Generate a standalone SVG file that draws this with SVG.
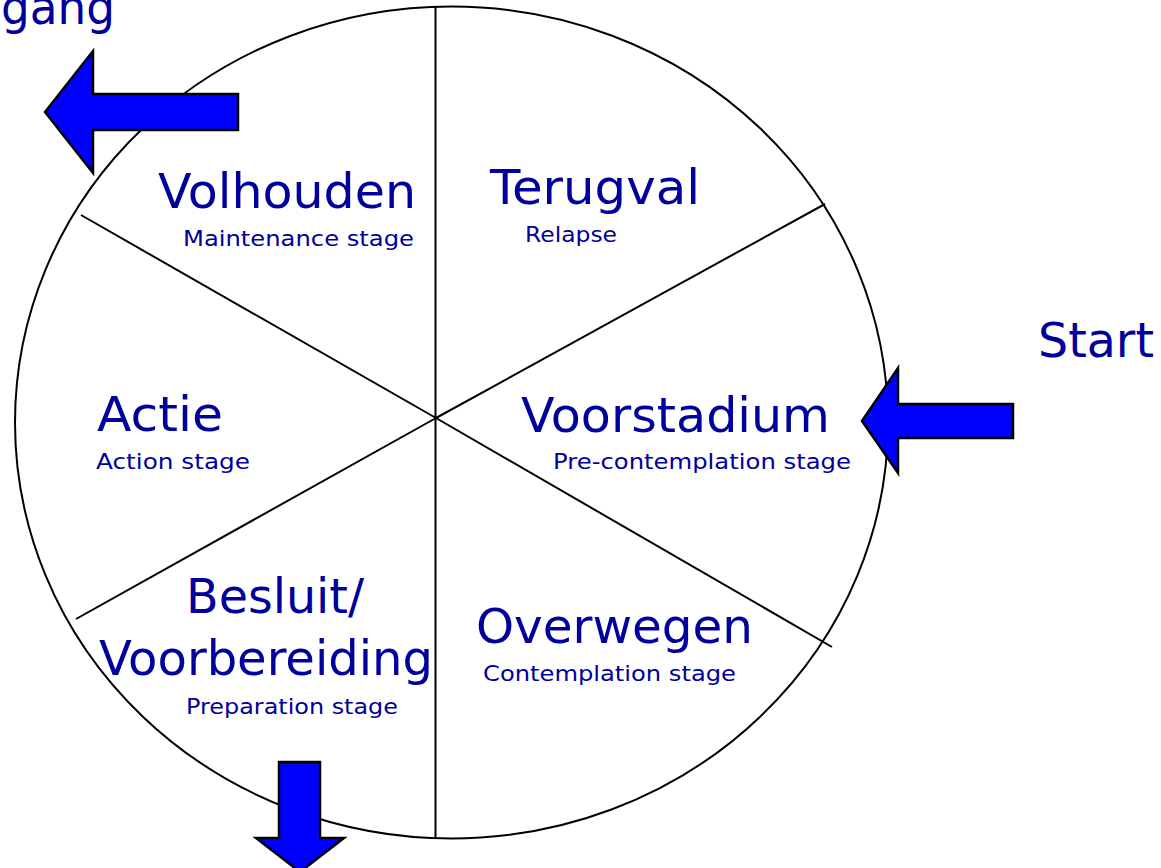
<svg xmlns="http://www.w3.org/2000/svg" width="1161" height="868" viewBox="0 0 1161 868">
<style>
.big{font-family:"DejaVu Sans","Verdana",sans-serif;font-size:48px;fill:#00009C}
.small{font-family:"DejaVu Sans","Verdana",sans-serif;font-size:22px;fill:#00009C}
.ln{stroke:#000;stroke-width:2;fill:none}
.arrow{fill:#0000FF;stroke:#000;stroke-width:2.5;stroke-linejoin:miter}
</style>
<rect width="1161" height="868" fill="#fff"/>
<g id="wheel">
<ellipse class="ln" cx="451.5" cy="422.5" rx="436.5" ry="416"/>
</g>
<g id="connectors">
<line class="ln" x1="435.5" y1="7" x2="435.5" y2="838"/>
<line class="ln" x1="436" y1="418" x2="825" y2="204"/>
<line class="ln" x1="436" y1="418" x2="832" y2="647"/>
<line class="ln" x1="436" y1="418" x2="81" y2="215"/>
<line class="ln" x1="436" y1="418" x2="76" y2="619"/>
</g>
<g id="volhouden">
<text class="big" x="158" y="208" textLength="258" lengthAdjust="spacingAndGlyphs">Volhouden</text>
<text class="small" x="183" y="246" textLength="231" lengthAdjust="spacingAndGlyphs">Maintenance stage</text>
</g>
<g id="terugval">
<text class="big" x="490" y="204" textLength="210" lengthAdjust="spacingAndGlyphs">Terugval</text>
<text class="small" x="525" y="242" textLength="92" lengthAdjust="spacingAndGlyphs">Relapse</text>
</g>
<g id="voorstadium">
<text class="big" x="521" y="432" textLength="309" lengthAdjust="spacingAndGlyphs">Voorstadium</text>
<text class="small" x="553" y="469" textLength="298" lengthAdjust="spacingAndGlyphs">Pre-contemplation stage</text>
</g>
<g id="actie">
<text class="big" x="97" y="431" textLength="126" lengthAdjust="spacingAndGlyphs">Actie</text>
<text class="small" x="96" y="469" textLength="154" lengthAdjust="spacingAndGlyphs">Action stage</text>
</g>
<g id="besluit">
<text class="big" x="186" y="613" textLength="178" lengthAdjust="spacingAndGlyphs">Besluit/</text>
<text class="big" x="99" y="675" textLength="334" lengthAdjust="spacingAndGlyphs">Voorbereiding</text>
<text class="small" x="186" y="714" textLength="212" lengthAdjust="spacingAndGlyphs">Preparation stage</text>
</g>
<g id="overwegen">
<text class="big" x="476" y="643" textLength="277" lengthAdjust="spacingAndGlyphs">Overwegen</text>
<text class="small" x="483" y="681" textLength="253" lengthAdjust="spacingAndGlyphs">Contemplation stage</text>
</g>
<g id="start">
<text class="big" x="1038" y="357" textLength="116" lengthAdjust="spacingAndGlyphs">Start</text>
<polygon class="arrow" points="862,421 898,368 898,404 1013,404 1013,438 898,438 898,473"/>
</g>
<g id="exit">
<text class="big" x="1" y="24" textLength="114" lengthAdjust="spacingAndGlyphs">gang</text>
<polygon class="arrow" points="45,112 93,51 93,94 238,94 238,130 93,130 93,173"/>
</g>
<g id="exit-down">
<polygon class="arrow" points="279,762 320,762 320,838 344,838 300,872 256,838 279,838"/>
</g>
</svg>
